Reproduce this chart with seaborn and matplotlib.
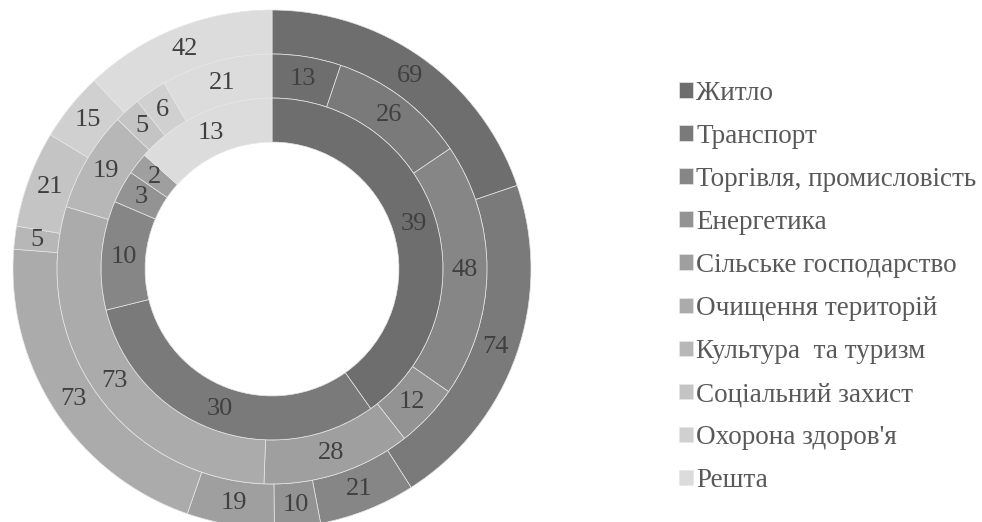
import matplotlib
matplotlib.use("Agg")

import numpy as np
import matplotlib.pyplot as plt
import seaborn as sns

# categories (legend order) and the three rings, clockwise from 12 o'clock
categories = ["Житло", "Транспорт", "Торгівля, промисловість", "Енергетика",
              "Сільське господарство", "Очищення територій", "Культура  та туризм",
              "Соціальний захист", "Охорона здоров'я", "Решта"]
outer_ring = [69, 74, 21, 10, 19, 73, 5, 21, 15, 42]
middle_ring = [13, 26, 48, 12, 28, 73, 19, 5, 6, 21]
inner_ring = [39, 30, 10, 3, 2, 0, 0, 0, 0, 13]

sns.set_theme(style="white")
plt.rcParams['font.family'] = ['Liberation Serif', 'DejaVu Serif']

colors = sns.blend_palette(["#6e6e6e", "#dcdcdc"], n_colors=len(categories))

fig = plt.figure(figsize=(9.82, 5.22), dpi=100)
# circle centre at (272, 269) px, radius 259 px
W, H = 982, 522
cx, cy, R = 272, 269, 259
ax = fig.add_axes([(cx - R) / W, (H - cy - R) / H, 2 * R / W, 2 * R / H])

ring_w = 0.17
rings = [(outer_ring, 1.0), (middle_ring, 0.83), (inner_ring, 0.66)]
wedge_sets = []
for vals, rad in rings:
    wedges, _ = ax.pie(vals, radius=rad, colors=colors, startangle=90, counterclock=False,
                       wedgeprops=dict(width=ring_w, edgecolor="#e6e6e6", linewidth=0.5))
    wedge_sets.append(wedges)
    for w, v in zip(wedges, vals):
        if v == 0:
            w.set_linewidth(0)
            continue
        ang = np.deg2rad((w.theta1 + w.theta2) / 2)
        r = rad - ring_w / 2
        ax.text(r * np.cos(ang), r * np.sin(ang), str(v), ha="center", va="center",
                fontsize=19, color="#404040")

# pie() resets the limits, so fix them afterwards
ax.set_xlim(-1, 1)
ax.set_ylim(-1, 1)
ax.set_aspect("equal")
ax.axis("off")

leg = fig.legend(wedge_sets[0], categories, loc="center left",
                 bbox_to_anchor=(679 / W, 1 - 287 / H), frameon=False,
                 fontsize=19.5, labelspacing=0.665, handlelength=0.52, handleheight=0.52,
                 handletextpad=0.12, borderpad=0, borderaxespad=0)
for t in leg.get_texts():
    t.set_color("#595959")

fig.savefig("out.png", dpi=100, facecolor="white")
